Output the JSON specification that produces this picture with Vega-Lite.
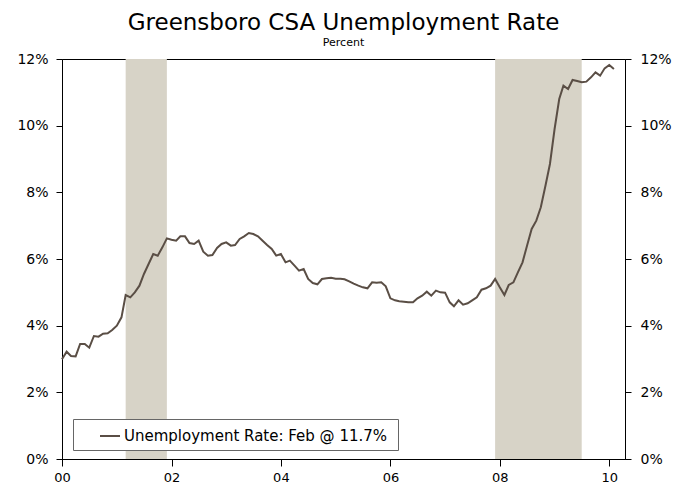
{
  "$schema": "https://vega.github.io/schema/vega-lite/v6.json",
  "autosize": {"type": "none"},
  "padding": {"left": 62, "top": 59, "right": 63, "bottom": 33},
  "width": 563,
  "height": 400,
  "background": "white",
  "config": {
    "font": "DejaVu Sans",
    "view": {"stroke": "#000000", "strokeWidth": 1},
    "axis": {"grid": false, "domainColor": "#000000", "tickColor": "#000000", "labelColor": "#000000", "labelFont": "DejaVu Sans", "labelFontSize": 14, "titleFontSize": 12}
  },
  "title": {
    "text": "Greensboro CSA Unemployment Rate",
    "subtitle": "Percent",
    "fontSize": 23,
    "fontWeight": "normal",
    "font": "DejaVu Sans",
    "color": "#000000",
    "subtitleFont": "DejaVu Sans",
    "subtitleFontSize": 11,
    "subtitleColor": "#000000",
    "subtitlePadding": 2,
    "anchor": "middle",
    "frame": "group",
    "offset": 4
  },
  "datasets": {
    "recessions": [
      {"start": "2001-03-01", "end": "2001-12-01"},
      {"start": "2007-12-01", "end": "2009-07-01"}
    ],
    "rate": [
      {"date": "2000-01-01", "rate": 2.99}, {"date": "2000-02-01", "rate": 3.22}, {"date": "2000-03-01", "rate": 3.09}, {"date": "2000-04-01", "rate": 3.08},
      {"date": "2000-05-01", "rate": 3.45}, {"date": "2000-06-01", "rate": 3.45}, {"date": "2000-07-01", "rate": 3.34}, {"date": "2000-08-01", "rate": 3.69},
      {"date": "2000-09-01", "rate": 3.67}, {"date": "2000-10-01", "rate": 3.76}, {"date": "2000-11-01", "rate": 3.77}, {"date": "2000-12-01", "rate": 3.87},
      {"date": "2001-01-01", "rate": 4.0}, {"date": "2001-02-01", "rate": 4.25}, {"date": "2001-03-01", "rate": 4.92}, {"date": "2001-04-01", "rate": 4.85},
      {"date": "2001-05-01", "rate": 5.0}, {"date": "2001-06-01", "rate": 5.2}, {"date": "2001-07-01", "rate": 5.55}, {"date": "2001-08-01", "rate": 5.85},
      {"date": "2001-09-01", "rate": 6.15}, {"date": "2001-10-01", "rate": 6.1}, {"date": "2001-11-01", "rate": 6.35}, {"date": "2001-12-01", "rate": 6.62},
      {"date": "2002-01-01", "rate": 6.58}, {"date": "2002-02-01", "rate": 6.55}, {"date": "2002-03-01", "rate": 6.68}, {"date": "2002-04-01", "rate": 6.68},
      {"date": "2002-05-01", "rate": 6.48}, {"date": "2002-06-01", "rate": 6.45}, {"date": "2002-07-01", "rate": 6.55}, {"date": "2002-08-01", "rate": 6.22},
      {"date": "2002-09-01", "rate": 6.1}, {"date": "2002-10-01", "rate": 6.12}, {"date": "2002-11-01", "rate": 6.33}, {"date": "2002-12-01", "rate": 6.45},
      {"date": "2003-01-01", "rate": 6.5}, {"date": "2003-02-01", "rate": 6.4}, {"date": "2003-03-01", "rate": 6.42}, {"date": "2003-04-01", "rate": 6.6},
      {"date": "2003-05-01", "rate": 6.68}, {"date": "2003-06-01", "rate": 6.78}, {"date": "2003-07-01", "rate": 6.75}, {"date": "2003-08-01", "rate": 6.68},
      {"date": "2003-09-01", "rate": 6.55}, {"date": "2003-10-01", "rate": 6.42}, {"date": "2003-11-01", "rate": 6.3}, {"date": "2003-12-01", "rate": 6.1},
      {"date": "2004-01-01", "rate": 6.15}, {"date": "2004-02-01", "rate": 5.9}, {"date": "2004-03-01", "rate": 5.95}, {"date": "2004-04-01", "rate": 5.8},
      {"date": "2004-05-01", "rate": 5.65}, {"date": "2004-06-01", "rate": 5.7}, {"date": "2004-07-01", "rate": 5.4}, {"date": "2004-08-01", "rate": 5.28},
      {"date": "2004-09-01", "rate": 5.24}, {"date": "2004-10-01", "rate": 5.4}, {"date": "2004-11-01", "rate": 5.42}, {"date": "2004-12-01", "rate": 5.44},
      {"date": "2005-01-01", "rate": 5.41}, {"date": "2005-02-01", "rate": 5.41}, {"date": "2005-03-01", "rate": 5.39}, {"date": "2005-04-01", "rate": 5.33},
      {"date": "2005-05-01", "rate": 5.26}, {"date": "2005-06-01", "rate": 5.2}, {"date": "2005-07-01", "rate": 5.15}, {"date": "2005-08-01", "rate": 5.12},
      {"date": "2005-09-01", "rate": 5.3}, {"date": "2005-10-01", "rate": 5.29}, {"date": "2005-11-01", "rate": 5.3}, {"date": "2005-12-01", "rate": 5.18},
      {"date": "2006-01-01", "rate": 4.82}, {"date": "2006-02-01", "rate": 4.76}, {"date": "2006-03-01", "rate": 4.73}, {"date": "2006-04-01", "rate": 4.72},
      {"date": "2006-05-01", "rate": 4.7}, {"date": "2006-06-01", "rate": 4.7}, {"date": "2006-07-01", "rate": 4.82}, {"date": "2006-08-01", "rate": 4.9},
      {"date": "2006-09-01", "rate": 5.02}, {"date": "2006-10-01", "rate": 4.9}, {"date": "2006-11-01", "rate": 5.05}, {"date": "2006-12-01", "rate": 5.0},
      {"date": "2007-01-01", "rate": 4.99}, {"date": "2007-02-01", "rate": 4.7}, {"date": "2007-03-01", "rate": 4.58}, {"date": "2007-04-01", "rate": 4.76},
      {"date": "2007-05-01", "rate": 4.63}, {"date": "2007-06-01", "rate": 4.67}, {"date": "2007-07-01", "rate": 4.76}, {"date": "2007-08-01", "rate": 4.85},
      {"date": "2007-09-01", "rate": 5.08}, {"date": "2007-10-01", "rate": 5.12}, {"date": "2007-11-01", "rate": 5.2}, {"date": "2007-12-01", "rate": 5.4},
      {"date": "2008-01-01", "rate": 5.15}, {"date": "2008-02-01", "rate": 4.92}, {"date": "2008-03-01", "rate": 5.22}, {"date": "2008-04-01", "rate": 5.3},
      {"date": "2008-05-01", "rate": 5.6}, {"date": "2008-06-01", "rate": 5.9}, {"date": "2008-07-01", "rate": 6.4}, {"date": "2008-08-01", "rate": 6.9},
      {"date": "2008-09-01", "rate": 7.15}, {"date": "2008-10-01", "rate": 7.55}, {"date": "2008-11-01", "rate": 8.2}, {"date": "2008-12-01", "rate": 8.85},
      {"date": "2009-01-01", "rate": 9.9}, {"date": "2009-02-01", "rate": 10.8}, {"date": "2009-03-01", "rate": 11.2}, {"date": "2009-04-01", "rate": 11.1},
      {"date": "2009-05-01", "rate": 11.37}, {"date": "2009-06-01", "rate": 11.34}, {"date": "2009-07-01", "rate": 11.3}, {"date": "2009-08-01", "rate": 11.32},
      {"date": "2009-09-01", "rate": 11.45}, {"date": "2009-10-01", "rate": 11.6}, {"date": "2009-11-01", "rate": 11.5}, {"date": "2009-12-01", "rate": 11.72},
      {"date": "2010-01-01", "rate": 11.82}, {"date": "2010-02-01", "rate": 11.7}
    ]
  },
  "layer": [
    {
      "data": {"name": "recessions"},
      "mark": {"type": "rect", "color": "#D7D3C7"},
      "encoding": {
        "x": {
          "field": "start", "type": "temporal",
          "scale": {"type": "utc", "domain": [{"year": 2000, "month": 1, "date": 1, "utc": true}, {"year": 2010, "month": 4, "date": 16, "utc": true}]}
        },
        "x2": {"field": "end"},
        "y": {"datum": 0, "type": "quantitative", "scale": {"domain": [0, 12], "nice": false}, "axis": null},
        "y2": {"datum": 12}
      }
    },
    {
      "data": {"name": "rate"},
      "mark": {"type": "line", "strokeWidth": 2},
      "encoding": {
        "x": {
          "field": "date", "type": "temporal",
          "scale": {"type": "utc", "domain": [{"year": 2000, "month": 1, "date": 1, "utc": true}, {"year": 2010, "month": 4, "date": 16, "utc": true}]},
          "axis": {
            "title": null,
            "labelExpr": "utcFormat(datum.value, '%y')",
            "values": [946684800000, 1009843200000, 1072915200000, 1136073600000, 1199145600000, 1262304000000],
            "ticks": true, "tickSize": 7, "tickColor": "#000000", "labelPadding": 5, "labelFontSize": 13,
            "labelFlush": false, "labelOverlap": false
          }
        },
        "y": {
          "field": "rate", "type": "quantitative",
          "scale": {"domain": [0, 12], "nice": false},
          "axis": {"title": null, "values": [0, 2, 4, 6, 8, 10, 12], "labelExpr": "datum.value + '%'", "tickSize": 6, "labelPadding": 8}
        },
        "color": {
          "field": "series", "type": "nominal",
          "scale": {"range": ["#5A4E45"]},
          "legend": {
            "title": null, "orient": "none", "legendX": 11, "legendY": 360,
            "symbolType": "stroke", "symbolStrokeWidth": 2, "symbolSize": 400,
            "labelFontSize": 15, "labelFont": "DejaVu Sans", "labelColor": "#000000",
            "strokeColor": "#666666", "fillColor": "white", "padding": 6,
            "symbolOffset": 20, "labelOffset": 3, "labelLimit": 400
          }
        }
      },
      "transform": [{"calculate": "'Unemployment Rate:  Feb @ 11.7%'", "as": "series"}]
    },
    {
      "data": {"name": "rate"},
      "mark": {"type": "rule", "opacity": 0},
      "encoding": {
        "y": {"field": "rate", "type": "quantitative", "scale": {"domain": [0, 12], "nice": false}, "axis": {"orient": "right", "title": null, "values": [0, 2, 4, 6, 8, 10, 12], "labelExpr": "datum.value + '%'", "tickSize": 6, "labelPadding": 9}}
      }
    }
  ],
  "resolve": {"axis": {"y": "independent"}}
}
